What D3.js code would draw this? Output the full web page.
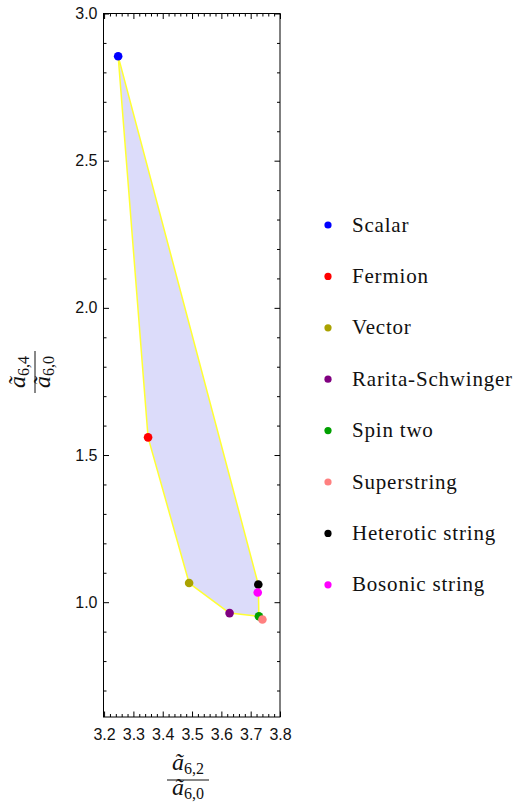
<!DOCTYPE html>
<html>
<head>
<meta charset="utf-8">
<script src="https://cdn.jsdelivr.net/npm/d3@7"></script>
<style>
  body { margin: 0; background: #fff; }
  svg { display: block; }
</style>
</head>
<body>
<svg id="chart" width="517" height="807"></svg>
<script>
// ---- data ----
const names  = ["Scalar", "Fermion", "Vector", "Rarita-Schwinger", "Spin two", "Superstring", "Heterotic string", "Bosonic string"];
const xVals  = [3.248, 3.350, 3.490, 3.628, 3.728, 3.740, 3.726, 3.724];
const yVals  = [2.855, 1.560, 1.065, 0.963, 0.952, 0.941, 1.060, 1.033];
const colors = ["#0000ff", "#ff0000", "#aaa200", "#800080", "#00a000", "#ff8080", "#000000", "#ff00ff"];
const regionOrder = ["Scalar", "Fermion", "Vector", "Rarita-Schwinger", "Spin two", "Heterotic string"];
const xMajorTicks = [3.2, 3.3, 3.4, 3.5, 3.6, 3.7, 3.8];
const yMajorTicks = [1.0, 1.5, 2.0, 2.5, 3.0];

// ---- layout ----
const svg = d3.select("#chart");
const pL = 103.5, pR = 280, pT = 13.5, pB = 717;
const x = d3.scaleLinear().domain([3.198, 3.8]).range([pL, pR]);
const y = d3.scaleLinear().domain([0.61, 3.0]).range([pB, pT]);

const xMinor = d3.range(3.2, 3.8001, 0.02).filter(v => !xMajorTicks.some(m => Math.abs(m - v) < 1e-6));
const yMinor = d3.range(0.7, 3.0001, 0.1).filter(v => !yMajorTicks.some(m => Math.abs(m - v) < 1e-6));

// region
const pts = regionOrder.map(n => names.indexOf(n));
svg.append("path")
  .attr("d", d3.line().x(i => x(xVals[i])).y(i => y(yVals[i])).curve(d3.curveLinearClosed)(pts))
  .attr("fill", "#dcdcfa")
  .attr("stroke", "#ffff33")
  .attr("stroke-width", 1.5)
  .attr("stroke-linejoin", "round");

// axes
function styleAxis(g) {
  g.select(".domain").remove();
  g.selectAll("line").attr("stroke", "#000").attr("stroke-width", 1);
  g.selectAll("text").attr("font-family", "'Liberation Sans', Arial, sans-serif").attr("font-size", 16).attr("fill", "#111");
}
const fmt = d3.format(".1f");
// bottom
svg.append("g").attr("transform", `translate(0,${pB})`)
  .call(d3.axisBottom(x).tickValues(xMajorTicks).tickSize(-5.5).tickPadding(12).tickFormat(fmt)).call(styleAxis);
svg.append("g").attr("transform", `translate(0,${pB})`)
  .call(d3.axisBottom(x).tickValues(xMinor).tickSize(-3).tickFormat("")).call(styleAxis);
// top
svg.append("g").attr("transform", `translate(0,${pT})`)
  .call(d3.axisTop(x).tickValues(xMajorTicks).tickSize(-5.5).tickFormat("")).call(styleAxis);
svg.append("g").attr("transform", `translate(0,${pT})`)
  .call(d3.axisTop(x).tickValues(xMinor).tickSize(-3).tickFormat("")).call(styleAxis);
// left
svg.append("g").attr("transform", `translate(${pL},0)`)
  .call(d3.axisLeft(y).tickValues(yMajorTicks).tickSize(-5.5).tickPadding(6).tickFormat(fmt)).call(styleAxis);
svg.append("g").attr("transform", `translate(${pL},0)`)
  .call(d3.axisLeft(y).tickValues(yMinor).tickSize(-3).tickFormat("")).call(styleAxis);
// right
svg.append("g").attr("transform", `translate(${pR},0)`)
  .call(d3.axisRight(y).tickValues(yMajorTicks).tickSize(-5.5).tickFormat("")).call(styleAxis);
svg.append("g").attr("transform", `translate(${pR},0)`)
  .call(d3.axisRight(y).tickValues(yMinor).tickSize(-3).tickFormat("")).call(styleAxis);

// frame
svg.append("rect").attr("x", pL).attr("y", pT).attr("width", pR - pL).attr("height", pB - pT)
  .attr("fill", "none").attr("stroke", "#000").attr("stroke-width", 1);

// points
svg.append("g").selectAll("circle").data(d3.range(names.length)).join("circle")
  .attr("cx", i => x(xVals[i])).attr("cy", i => y(yVals[i])).attr("r", 4.3)
  .attr("fill", i => colors[i]);

// legend
const lg = svg.append("g");
names.forEach((n, i) => {
  const ly = 225 + i * 51.4;
  lg.append("circle").attr("cx", 328).attr("cy", ly).attr("r", 3.6).attr("fill", colors[i]);
  lg.append("text").attr("x", 352).attr("y", ly + 6.5).text(n)
    .attr("font-family", "'Liberation Serif', 'Times New Roman', serif").attr("font-size", 21)
    .attr("letter-spacing", 0.8).attr("fill", "#111");
});

// axis titles (fractions)
function frac(g, num, den) {
  const ff = "'Liberation Serif', 'Times New Roman', serif";
  function term(t, sub, yy) {
    const tx = g.append("text").attr("x", 0).attr("y", yy).attr("text-anchor", "middle")
      .attr("font-family", ff).attr("fill", "#111");
    tx.append("tspan").attr("font-style", "italic").attr("font-size", 24).text(t);
    tx.append("tspan").attr("font-size", 16).attr("dy", 4).text(sub);
  }
  term("ã", num, -10);
  g.append("line").attr("x1", -21).attr("x2", 21).attr("y1", 0).attr("y2", 0).attr("stroke", "#111").attr("stroke-width", 1);
  term("ã", den, 15);
}
frac(svg.append("g").attr("transform", "translate(188,780)"), "6,2", "6,0");
frac(svg.append("g").attr("transform", "translate(35,372) rotate(-90)"), "6,4", "6,0");
</script>
</body>
</html>
